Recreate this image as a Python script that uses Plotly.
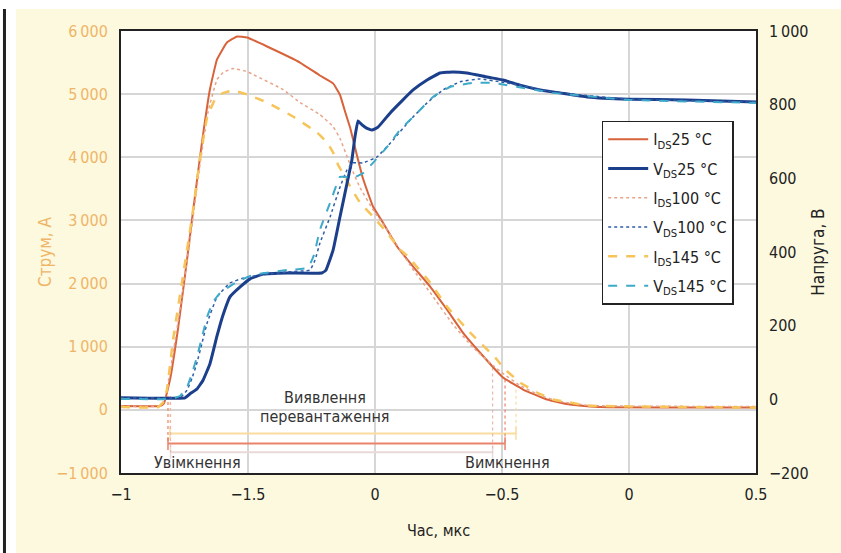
import plotly.graph_objects as go

FONT = "Liberation Sans Narrow, DejaVu Sans Condensed, Arial Narrow, sans-serif"

# ---- data (time in µs, current in A, voltage in V) ----
t_ids25 = [-2.000, -1.846, -1.831, -1.807, -1.776, -1.740, -1.713, -1.685, -1.650, -1.622, -1.583, -1.543,
           -1.504, -1.425, -1.295, -1.217, -1.165, -1.138, -1.118, -1.098, -1.071, -1.047, -1.008, -0.969,
           -0.913, -0.850, -0.783, -0.717, -0.654, -0.587, -0.496, -0.417, -0.323, -0.232, -0.114, 0.500]
i_ids25 = [60, 60, 100, 480, 1272, 2381, 3252, 4123, 5073, 5549, 5818, 5913,
           5897, 5755, 5501, 5295, 5170, 4990, 4725, 4471, 4030, 3660, 3221, 2967,
           2587, 2270, 1953, 1589, 1224, 908, 512, 322, 163, 84, 44, 36]

t_ids100 = [-2.000, -1.846, -1.827, -1.799, -1.768, -1.728, -1.689, -1.657, -1.622, -1.598, -1.559, -1.504,
            -1.480, -1.362, -1.295, -1.217, -1.165, -1.138, -1.110, -1.087, -1.059, -1.008, -0.953, -0.902,
            -0.850, -0.783, -0.693, -0.614, -0.535, -0.496, -0.429, -0.350, -0.272, -0.154, 0.500]
i_ids100 = [60, 60, 163, 797, 1589, 2698, 3886, 4725, 5232, 5343, 5406, 5359,
            5311, 5073, 4866, 4676, 4486, 4300, 4011, 3774, 3520, 3172, 2855, 2540,
            2222, 1858, 1351, 987, 702, 576, 386, 227, 132, 68, 52]

t_ids145 = [-2.000, -1.854, -1.835, -1.819, -1.795, -1.760, -1.720, -1.689, -1.661, -1.630, -1.602, -1.559,
            -1.504, -1.425, -1.323, -1.228, -1.189, -1.165, -1.146, -1.126, -1.098, -1.059, -1.008, -0.953,
            -0.902, -0.874, -0.783, -0.717, -0.626, -0.520, -0.496, -0.429, -0.362, -0.299, -0.232, -0.165, 0.500]
i_ids145 = [44, 44, 116, 322, 1114, 2017, 3062, 3965, 4630, 4915, 5010, 5057,
            4995, 4868, 4646, 4393, 4235, 4076, 3886, 3744, 3538, 3284, 3062, 2808,
            2540, 2445, 2017, 1638, 1226, 798, 671, 434, 275, 163, 116, 68, 36]

t_vds25 = [-2.000, -1.748, -1.728, -1.701, -1.677, -1.650, -1.622, -1.602, -1.571, -1.531, -1.492, -1.441,
           -1.346, -1.209, -1.193, -1.165, -1.138, -1.110, -1.091, -1.079, -1.067, -1.051, -1.035, -1.012,
           -0.988, -0.941, -0.890, -0.850, -0.795, -0.744, -0.693, -0.638, -0.559, -0.496, -0.429, -0.350,
           -0.272, -0.165, 0.000, 0.228, 0.500]
v_vds25 = [4, 4, 15, 28, 52, 96, 172, 221, 278, 305, 327, 340,
           343, 343, 351, 405, 495, 587, 650, 712, 756, 745, 737, 731,
           739, 777, 813, 840, 867, 886, 889, 886, 875, 867, 853, 840,
           832, 821, 815, 813, 807]

t_vds100 = [-2.000, -1.787, -1.760, -1.740, -1.720, -1.701, -1.681, -1.661, -1.622, -1.571, -1.504, -1.346,
            -1.256, -1.236, -1.217, -1.177, -1.138, -1.110, -1.087, -1.047, -0.992, -0.929, -0.862, -0.795,
            -0.732, -0.665, -0.587, -0.508, -0.429, -0.299, 0.000, 0.500]
v_vds100 = [4, 4, 9, 25, 58, 99, 153, 207, 278, 316, 332, 346,
            351, 378, 424, 495, 576, 623, 642, 642, 658, 704, 758, 805,
            840, 862, 870, 862, 853, 834, 815, 807]

t_vds145 = [-2.000, -1.807, -1.768, -1.740, -1.720, -1.701, -1.681, -1.661, -1.638, -1.610, -1.543, -1.480,
            -1.346, -1.264, -1.240, -1.217, -1.177, -1.138, -1.118, -1.087, -1.047, -1.008, -0.953, -0.902,
            -0.835, -0.772, -0.705, -0.614, -0.535, -0.480, -0.299, 0.000, 0.500]
v_vds145 = [1, 1, 9, 33, 71, 115, 169, 224, 264, 289, 319, 338,
            351, 357, 392, 460, 533, 604, 604, 601, 614, 642, 685, 731,
            777, 821, 848, 859, 859, 853, 832, 813, 805]

# overload detection markers: turn-on / turn-off times, and bar levels (A)
marker_names = ["IDS145", "IDS25", "IDS100"]
turn_on = [-1.807, -1.815, -1.805]
turn_off = [-0.445, -0.488, -0.537]
off_current = [318, 480, 670]
bar_level = [-375, -534, -672]
marker_colors = ["#f9dca0", "#e9836b", "#ead9d9"]

x_ticks = [-2, -1.5, -1, -0.5, 0, 0.5]
x_ticktext = ["\u22121", "\u22121.5", "0", "\u22120.5", "0", "0.5"]
yl_ticks = [-1000, 0, 1000, 2000, 3000, 4000, 5000, 6000]
yl_ticktext = ["\u22121\u2009000", "0", "1\u2009000", "2\u2009000", "3\u2009000", "4\u2009000", "5\u2009000", "6\u2009000"]
yr_ticks = [-200, 0, 200, 400, 600, 800, 1000]
yr_ticktext = ["\u2212200", "0", "200", "400", "600", "800", "1\u2009000"]

ORANGE_AX = "#efb567"

fig = go.Figure()

# marker bars (behind curves)
for k in range(len(marker_names)):
    c = marker_colors[k]
    vc = c if k != 2 else "#e9b8a8"
    fig.add_trace(go.Scatter(x=[turn_on[k], turn_off[k]], y=[bar_level[k], bar_level[k]],
                             mode="lines+markers", line=dict(color=c, width=2),
                             marker=dict(symbol="line-ns", size=9, line=dict(color=c, width=1.5)),
                             showlegend=False, hoverinfo="skip"))
    fig.add_trace(go.Scatter(x=[turn_off[k], turn_off[k]], y=[off_current[k], bar_level[k]],
                             mode="lines", line=dict(color=vc, width=1.2, dash="dot"),
                             showlegend=False, hoverinfo="skip"))
    fig.add_trace(go.Scatter(x=[turn_on[k], turn_on[k]], y=[220, bar_level[k]],
                             mode="lines", line=dict(color=vc, width=1.2, dash="dot"),
                             showlegend=False, hoverinfo="skip"))

series = [
    ("I<sub>DS</sub>25 °C", t_ids25, i_ids25, "y", dict(color="#d8623a", width=2)),
    ("V<sub>DS</sub>25 °C", t_vds25, v_vds25, "y2", dict(color="#1c3f8c", width=3)),
    ("I<sub>DS</sub>100 °C", t_ids100, i_ids100, "y", dict(color="#e8a488", width=1.5, dash="dot")),
    ("V<sub>DS</sub>100 °C", t_vds100, v_vds100, "y2", dict(color="#2f5da8", width=1.5, dash="dot")),
    ("I<sub>DS</sub>145 °C", t_ids145, i_ids145, "y", dict(color="#f6c458", width=2.5, dash="dash")),
    ("V<sub>DS</sub>145 °C", t_vds145, v_vds145, "y2", dict(color="#3fa9c9", width=2, dash="dash")),
]
for idx, (name, xs, ys, ax, ln) in enumerate(series):
    fig.add_trace(go.Scatter(x=xs, y=ys, name=name, yaxis=ax, mode="lines",
                             line=dict(shape="spline", smoothing=0.3, **ln),
                             legendgroup=f"g{idx}"))

fig.update_layout(
    width=841, height=553,
    margin=dict(l=121, r=85, t=31, b=80),
    paper_bgcolor="#fdf9df",
    plot_bgcolor="white",
    font=dict(family=FONT, size=15, color="#222"),
    showlegend=True,
    legend=dict(x=0.757, y=0.797, xanchor="left", yanchor="top",
                bgcolor="white", bordercolor="#222", borderwidth=1.5,
                font=dict(family=FONT, size=16, color="#222"),
                tracegroupgap=5.5, traceorder="grouped", itemwidth=40),
    xaxis=dict(range=[-2, 0.5], tickvals=x_ticks, ticktext=x_ticktext,
               showgrid=True, gridcolor="#d6d6d6", gridwidth=1.5,
               showline=True, linecolor="#222", linewidth=2, mirror=True,
               zeroline=False, ticks="", ticklabelstandoff=6,
               tickfont=dict(family=FONT, size=16, color="#222"),
               title=dict(text="Час, мкс", font=dict(family=FONT, size=16, color="#222"), standoff=22)),
    yaxis=dict(range=[-1000, 6000], tickvals=yl_ticks, ticktext=yl_ticktext,
               showgrid=True, gridcolor="#d6d6d6", gridwidth=1.5,
               showline=True, linecolor="#222", linewidth=2, mirror=True,
               zeroline=False, ticks="", ticklabelstandoff=8,
               tickfont=dict(family=FONT, size=16, color=ORANGE_AX),
               title=dict(text="Струм, А", font=dict(family=FONT, size=17, color=ORANGE_AX), standoff=0)),
    yaxis2=dict(range=[-200, 1000], tickvals=yr_ticks, ticktext=yr_ticktext,
                overlaying="y", side="right", showgrid=False, zeroline=False,
                showline=False, ticks="", ticklabelstandoff=12,
                tickfont=dict(family=FONT, size=16, color="#222"),
                title=dict(text="Напруга, В", font=dict(family=FONT, size=17, color="#222"), standoff=4)),
    shapes=[
        dict(type="rect", xref="paper", yref="paper", x0=-0.20, x1=1.15, y0=1.0498, y1=1.08,
             fillcolor="white", line=dict(width=0), layer="below"),
        dict(type="rect", xref="paper", yref="paper", x0=-0.20, x1=-0.1654, y0=-0.2, y1=1.08,
             fillcolor="white", line=dict(width=0), layer="below"),
        dict(type="line", xref="paper", yref="paper", x0=-0.1835, x1=-0.1835, y0=-0.2, y1=1.0498,
             line=dict(color="#222", width=3), layer="below"),
    ],
    annotations=[
        dict(text="Виявлення", x=-1.195, y=195, xref="x", yref="y", showarrow=False,
             font=dict(family=FONT, size=16, color="#333")),
        dict(text="перевантаження", x=-1.195, y=-106, xref="x", yref="y", showarrow=False,
             font=dict(family=FONT, size=16, color="#333")),
        dict(text="Увімкнення", x=-1.697, y=-835, xref="x", yref="y", showarrow=False,
             font=dict(family=FONT, size=16, color="#333")),
        dict(text="Вимкнення", x=-0.48, y=-835, xref="x", yref="y", showarrow=False,
             font=dict(family=FONT, size=16, color="#333")),
    ],
)

fig.write_html("out.html", config={"displayModeBar": False},
               post_script="document.body.style.margin='0';document.body.style.padding='0';")
